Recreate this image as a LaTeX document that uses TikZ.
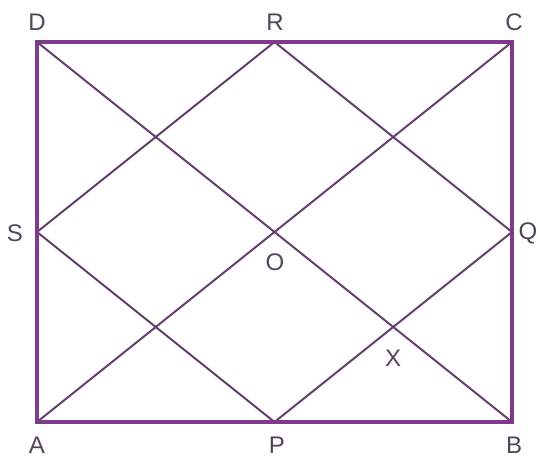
\documentclass[tikz,border=0pt]{standalone}
\usepackage{fontspec}
\setmainfont{Liberation Sans}
\begin{document}
\begin{tikzpicture}[x=1pt,y=1pt,
  frame/.style={draw={rgb,255:red,128;green,58;blue,140}, line width=4pt, line join=miter},
  diag/.style={draw={rgb,255:red,98;green,62;blue,108}, line width=2pt},
  lab/.style={font=\fontsize{24}{26}\selectfont, text={rgb,255:red,80;green,70;blue,85}, inner sep=0pt}]
\useasboundingbox (0,0) rectangle (538,457);
\coordinate (A) at (37,35);
\coordinate (B) at (512,35);
\coordinate (C) at (512,415);
\coordinate (D) at (37,415);
\coordinate (P) at (274.5,35);
\coordinate (Q) at (512,225);
\coordinate (R) at (274.5,415);
\coordinate (S) at (37,225);
\coordinate (O) at (274.5,225);
\draw[diag] (A) -- (C);
\draw[diag] (D) -- (B);
\draw[diag] (P) -- (Q) -- (R) -- (S) -- cycle;
\draw[frame] (A) -- (B) -- (C) -- (D) -- cycle;
\node[lab] (lD) at (37,435) {D};
\node[lab] (lR) at (275,435) {R};
\node[lab] (lC) at (514,435) {C};
\node[lab] (lS) at (15,224) {S};
\node[lab] (lQ) at (528,224) {Q};
\node[lab] (lO) at (275,195) {O};
\node[lab] (lX) at (393,99) {X};
\node[lab] (lA) at (37,12) {A};
\node[lab] (lP) at (277,12) {P};
\node[lab] (lB) at (514,12) {B};
\end{tikzpicture}
\end{document}
